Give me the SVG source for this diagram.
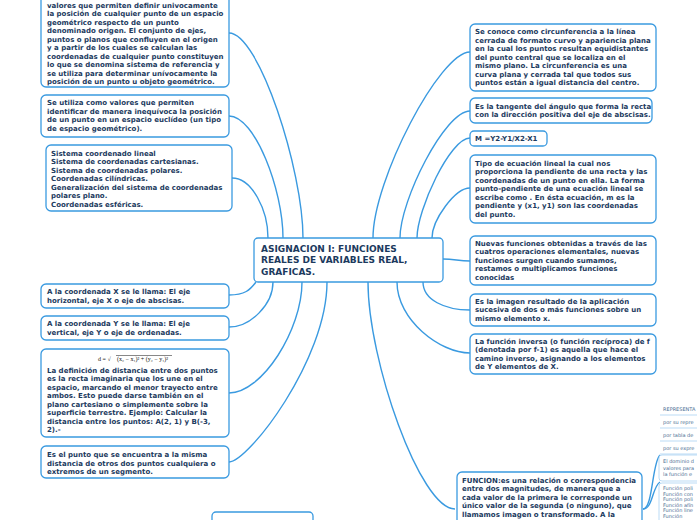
<svg xmlns="http://www.w3.org/2000/svg" width="697" height="520" viewBox="0 0 697 520">
<style>
.bx{fill:#fff;stroke:#3a9ae0;stroke-width:1.3}
.t{font-family:"DejaVu Sans",Verdana,sans-serif;font-weight:bold;font-size:7px;fill:#1c3a5e}
.ct{font-family:"DejaVu Sans",Verdana,sans-serif;font-weight:bold;font-size:9px;fill:#1c3a5e}
.s{font-family:"DejaVu Sans",Verdana,sans-serif;font-size:5px;fill:#4a6d92}
.c{fill:none;stroke:#3a9ae0;stroke-width:1.4}
.u{fill:none;stroke:#a9d2f2;stroke-width:0.8}
</style>
<rect width="697" height="520" fill="#fff"/>
<g id="connectors">
<path class="c" d="M229,33 C259,33 303,170 303,238"/>
<path class="c" d="M229,116 C255,116 283,190 283,238"/>
<path class="c" d="M232,178 C252,178 268,210 268,238"/>
<path class="c" d="M229,295 C245,295 250,290 256,282"/>
<path class="c" d="M229,327 C250,327 273,305 273,282"/>
<path class="c" d="M229,393 C262,393 302,330 302,282"/>
<path class="c" d="M229,462 C248,462 327,360 327,282"/>
<path class="c" d="M470,52 C440,52 373,180 373,238"/>
<path class="c" d="M470,111 C445,111 400,200 400,238"/>
<path class="c" d="M470,138 C450,138 417,210 417,238"/>
<path class="c" d="M470,188 C455,188 432,220 432,238"/>
<path class="c" d="M470,261 C458,261 455,259 443,259"/>
<path class="c" d="M470,310 C445,310 423,300 423,282"/>
<path class="c" d="M470,353 C440,353 397,320 397,282"/>
<path class="c" d="M455,509 C420,509 368,360 368,282"/>
<path class="c" d="M643,509 C653,509 652,462 660,455"/>
<path class="c" d="M643,509 C653,509 652,487 660,482"/>
</g>
<g id="n1">
<rect class="bx" x="41" y="-10" width="188" height="97" rx="5"/>
<text class="t" x="47" y="7.5">valores que permiten definir univocamente</text>
<text class="t" x="47" y="16">la posición de cualquier punto de un espacio</text>
<text class="t" x="47" y="24.5">geométrico respecto de un punto</text>
<text class="t" x="47" y="33">denominado origen. El conjunto de ejes,</text>
<text class="t" x="47" y="41.5">puntos o planos que confluyen en el origen</text>
<text class="t" x="47" y="50">y a partir de los cuales se calculan las</text>
<text class="t" x="47" y="58.5">coordenadas de cualquier punto constituyen</text>
<text class="t" x="47" y="67">lo que se denomina sistema de referencia y</text>
<text class="t" x="47" y="75.5">se utiliza para determinar unívocamente la</text>
<text class="t" x="47" y="84">posición de un punto u objeto geométrico.</text>
</g>
<g id="n2">
<rect class="bx" x="41" y="95" width="188" height="42" rx="5"/>
<text class="t" x="47" y="105">Se utiliza como valores que permiten</text>
<text class="t" x="47" y="113.5">identificar de manera inequívoca la posición</text>
<text class="t" x="47" y="122">de un punto en un espacio euclídeo (un tipo</text>
<text class="t" x="47" y="130.5">de espacio geométrico).</text>
</g>
<g id="n3">
<rect class="bx" x="46" y="145" width="186" height="66" rx="5"/>
<text class="t" x="51" y="155.5">Sistema coordenado lineal</text>
<text class="t" x="51" y="164">Sistema de coordenadas cartesianas.</text>
<text class="t" x="51" y="172.5">Sistema de coordenadas polares.</text>
<text class="t" x="51" y="181">Coordenadas cilíndricas.</text>
<text class="t" x="51" y="189.5">Generalización del sistema de coordenadas</text>
<text class="t" x="51" y="198">polares plano.</text>
<text class="t" x="51" y="206.5">Coordenadas esféricas.</text>
</g>
<g id="n4">
<rect class="bx" x="41" y="284" width="188" height="24" rx="5"/>
<text class="t" x="47" y="294">A la coordenada X se le llama: El eje</text>
<text class="t" x="47" y="302.5">horizontal, eje X o eje de abscisas.</text>
</g>
<g id="n5">
<rect class="bx" x="41" y="316" width="188" height="24" rx="5"/>
<text class="t" x="47" y="326">A la coordenada Y se le llama: El eje</text>
<text class="t" x="47" y="334.5">vertical, eje Y o eje de ordenadas.</text>
</g>
<g id="n6">
<rect class="bx" x="41" y="349" width="188" height="88" rx="5"/>
<text x="98" y="361" font-family="Liberation Serif,serif" font-size="6" fill="#111">d = √</text>
<line x1="116" y1="355.5" x2="172" y2="355.5" stroke="#111" stroke-width="0.5"/>
<text x="117" y="361" font-family="Liberation Serif,serif" font-size="6" fill="#111">(x₂ − x₁)² + (y₂ − y₁)²</text>
<text class="t" x="47" y="372.5">La definición de distancia entre dos puntos</text>
<text class="t" x="47" y="381">es la recta imaginaria que los une en el</text>
<text class="t" x="47" y="389.5">espacio, marcando el menor trayecto entre</text>
<text class="t" x="47" y="398">ambos. Esto puede darse también en el</text>
<text class="t" x="47" y="406.5">plano cartesiano o simplemente sobre la</text>
<text class="t" x="47" y="415">superficie terrestre. Ejemplo: Calcular la</text>
<text class="t" x="47" y="423.5">distancia entre los puntos: A(2, 1) y B(-3,</text>
<text class="t" x="47" y="432">2).-</text>
</g>
<g id="n7">
<rect class="bx" x="41" y="446" width="188" height="32" rx="5"/>
<text class="t" x="47" y="457">Es el punto que se encuentra a la misma</text>
<text class="t" x="47" y="465.5">distancia de otros dos puntos cualquiera o</text>
<text class="t" x="47" y="474">extremos de un segmento.</text>
</g>
<g id="n8">
<rect class="bx" x="212" y="512" width="101" height="20" rx="4" stroke="#a9d2f2"/>
</g>
<g id="center">
<rect class="bx" x="254" y="238" width="189" height="44" rx="4" stroke-width="1.6"/>
<text class="ct" x="261" y="251.5">ASIGNACION I: FUNCIONES</text>
<text class="ct" x="261" y="263">REALES DE VARIABLES REAL,</text>
<text class="ct" x="261" y="274.5">GRAFICAS.</text>
</g>
<g id="r1">
<rect class="bx" x="470" y="24" width="186" height="67" rx="5"/>
<text class="t" x="475" y="34">Se conoce como circunferencia a la línea</text>
<text class="t" x="475" y="42.5">cerrada de formato curvo y apariencia plana</text>
<text class="t" x="475" y="51">en la cual los puntos resultan equidistantes</text>
<text class="t" x="475" y="59.5">del punto central que se localiza en el</text>
<text class="t" x="475" y="68">mismo plano. La circunferencia es una</text>
<text class="t" x="475" y="76.5">curva plana y cerrada tal que todos sus</text>
<text class="t" x="475" y="85">puntos están a igual distancia del centro.</text>
</g>
<g id="r2">
<rect class="bx" x="470" y="98" width="182" height="25" rx="5"/>
<text class="t" x="475" y="108.5">Es la tangente del ángulo que forma la recta</text>
<text class="t" x="475" y="117">con la dirección positiva del eje de abscisas.</text>
</g>
<g id="r3">
<rect class="bx" x="470" y="131" width="77" height="15" rx="4"/>
<text class="t" x="475" y="141">M =Y2-Y1/X2-X1</text>
</g>
<g id="r4">
<rect class="bx" x="470" y="155" width="186" height="68" rx="5"/>
<text class="t" x="475" y="165.5">Tipo de ecuación lineal la cual nos</text>
<text class="t" x="475" y="174">proporciona la pendiente de una recta y las</text>
<text class="t" x="475" y="182.5">coordenadas de un punto en ella. La forma</text>
<text class="t" x="475" y="191">punto-pendiente de una ecuación lineal se</text>
<text class="t" x="475" y="199.5">escribe como . En ésta ecuación, m es la</text>
<text class="t" x="475" y="208">pendiente y (x1, y1) son las coordenadas</text>
<text class="t" x="475" y="216.5">del punto.</text>
</g>
<g id="r5">
<rect class="bx" x="470" y="236" width="186" height="49" rx="5"/>
<text class="t" x="475" y="245.5">Nuevas funciones obtenidas a través de las</text>
<text class="t" x="475" y="254">cuatros operaciones elementales, nuevas</text>
<text class="t" x="475" y="262.5">funciones surgen cuando sumamos,</text>
<text class="t" x="475" y="271">restamos o multiplicamos funciones</text>
<text class="t" x="475" y="279.5">conocidas</text>
</g>
<g id="r6">
<rect class="bx" x="470" y="294" width="186" height="32" rx="5"/>
<text class="t" x="475" y="303.5">Es la imagen resultado de la aplicación</text>
<text class="t" x="475" y="312">sucesiva de dos o más funciones sobre un</text>
<text class="t" x="475" y="320.5">mismo elemento x.</text>
</g>
<g id="r7">
<rect class="bx" x="470" y="334" width="186" height="40" rx="5"/>
<text class="t" x="475" y="343.5">La función inversa (o función recíproca) de f</text>
<text class="t" x="475" y="352">(denotada por f-1) es aquella que hace el</text>
<text class="t" x="475" y="360.5">camino inverso, asignando a los elementos</text>
<text class="t" x="475" y="369">de Y elementos de X.</text>
</g>
<g id="funcion">
<rect class="bx" x="457" y="472" width="185" height="60" rx="5"/>
<text class="t" x="462" y="482.5">FUNCION:es una relación o correspondencia</text>
<text class="t" x="462" y="491">entre dos magnitudes, de manera que a</text>
<text class="t" x="462" y="499.5">cada valor de la primera le corresponde un</text>
<text class="t" x="462" y="508">único valor de la segunda (o ninguno), que</text>
<text class="t" x="462" y="516.5">llamamos imagen o transformado. A la</text>
</g>
<g id="sub">
<text class="s" x="663" y="411">REPRESENTA</text>
<path class="u" d="M660,415 H697"/>
<text class="s" x="663" y="424">por su repre</text>
<path class="u" d="M660,428 H697"/>
<text class="s" x="663" y="437">por tabla de</text>
<path class="u" d="M660,441 H697"/>
<text class="s" x="663" y="450">por su expre</text>
<path class="u" d="M660,454 H697"/>
<rect x="659" y="455" width="50" height="26" rx="3" fill="#fff" stroke="#a9d2f2" stroke-width="0.8"/>
<text class="s" x="663" y="463">El dominio d</text>
<text class="s" x="663" y="469.5">valores para</text>
<text class="s" x="663" y="476">la función e</text>
<rect x="659" y="483" width="50" height="45" rx="3" fill="#fff" stroke="#a9d2f2" stroke-width="0.8"/>
<text class="s" x="663" y="490">Función poli</text>
<text class="s" x="663" y="495.5">Función con</text>
<text class="s" x="663" y="501">Función poli</text>
<text class="s" x="663" y="506.5">Función afín</text>
<text class="s" x="663" y="512">Función line</text>
<text class="s" x="663" y="517.5">Función</text>
</g>
</svg>
